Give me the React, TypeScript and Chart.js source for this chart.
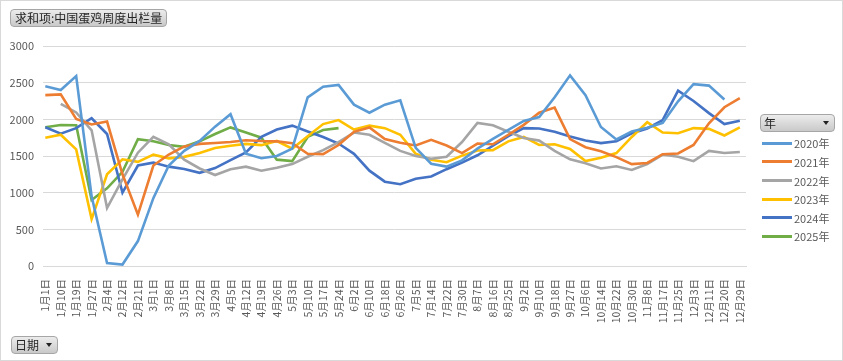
import React, { useEffect, useRef } from 'react';
import { Chart, registerables } from 'chart.js';
Chart.register(...registerables);

const dateLabels = ['1月1日','1月10日','1月19日','1月27日','2月4日','2月12日','2月21日','3月1日','3月8日','3月15日','3月22日','3月29日','4月5日','4月12日','4月19日','4月26日','5月3日','5月10日','5月17日','5月24日','6月2日','6月10日','6月18日','6月26日','7月5日','7月14日','7月22日','7月30日','8月7日','8月16日','8月25日','9月2日','9月10日','9月18日','9月27日','10月6日','10月14日','10月22日','10月30日','11月8日','11月17日','11月25日','12月3日','12月11日','12月20日','12月29日'];

const yearNames = ['2020年', '2021年', '2022年', '2023年', '2024年', '2025年'];
const yearColors = ['#5b9bd5', '#ed7d31', '#a5a5a5', '#ffc000', '#4472c4', '#70ad47'];

const s2020 = [2450, 2400, 2590, 950, 40, 20, 340, 925, 1370, 1570, 1705, 1900, 2070, 1530, 1470, 1500, 1600, 2300, 2445, 2470, 2200, 2090, 2200, 2260, 1610, 1395, 1355, 1440, 1600, 1733, 1855, 1978, 2030, 2300, 2600, 2330, 1895, 1725, 1835, 1885, 1950, 2245, 2480, 2460, 2270, null];
const s2021 = [2330, 2340, 2005, 1930, 1970, 1250, 700, 1370, 1520, 1630, 1665, 1677, 1690, 1715, 1705, 1700, 1675, 1530, 1525, 1650, 1830, 1890, 1730, 1680, 1643, 1720, 1643, 1540, 1670, 1660, 1790, 1925, 2090, 2160, 1730, 1620, 1565, 1485, 1390, 1405, 1525, 1535, 1650, 1945, 2165, 2290];
const s2022 = [null, 2210, 2094, 1850, 790, 1180, 1545, 1760, 1660, 1450, 1330, 1240, 1320, 1355, 1300, 1340, 1390, 1490, 1580, 1690, 1820, 1790, 1680, 1570, 1500, 1462, 1490, 1690, 1950, 1920, 1830, 1745, 1710, 1570, 1455, 1400, 1330, 1360, 1310, 1390, 1520, 1490, 1430, 1570, 1540, 1555];
const s2023 = [1750, 1790, 1590, 640, 1250, 1455, 1420, 1518, 1468, 1488, 1540, 1610, 1640, 1665, 1648, 1705, 1600, 1770, 1935, 1990, 1860, 1914, 1880, 1790, 1530, 1450, 1415, 1505, 1575, 1580, 1700, 1760, 1650, 1660, 1597, 1430, 1475, 1540, 1760, 1960, 1820, 1810, 1880, 1870, 1780, 1890];
const s2024 = [1891, 1805, 1880, 2015, 1800, 1000, 1370, 1410, 1355, 1323, 1270, 1335, 1445, 1550, 1763, 1860, 1914, 1835, 1760, 1670, 1530, 1300, 1150, 1115, 1190, 1220, 1320, 1410, 1510, 1640, 1770, 1880, 1876, 1830, 1765, 1710, 1676, 1700, 1810, 1875, 1990, 2390, 2250, 2085, 1935, 1982];
const s2025 = [1891, 1923, 1920, 900, 1060, 1285, 1730, 1700, 1650, 1625, 1700, 1800, 1890, 1820, 1750, 1450, 1430, 1760, 1855, 1880, null, null, null, null, null, null, null, null, null, null, null, null, null, null, null, null, null, null, null, null, null, null, null, null, null, null];

const yMax = 3000;
const yStep = 500;

const FONT = "'Microsoft YaHei', 'Noto Sans CJK SC', 'Noto Sans', sans-serif";

const btnStyle: React.CSSProperties = {
  position: 'absolute',
  boxSizing: 'border-box',
  background: 'linear-gradient(#ececec, #c9c9c9)',
  border: '1px solid #a6a6a6',
  borderRadius: 4,
  fontFamily: FONT,
  fontSize: 12,
  color: '#262626',
  lineHeight: '15px',
  whiteSpace: 'nowrap',
};

const Tri = () => (
  <span style={{ position: 'absolute', right: 5, top: 6, width: 0, height: 0, borderLeft: '3.5px solid transparent', borderRight: '3.5px solid transparent', borderTop: '4px solid #222' }} />
);

export default function App() {
  const ref = useRef<HTMLCanvasElement>(null);
  useEffect(() => {
    const series = [s2020, s2021, s2022, s2023, s2024, s2025];
    const chart = new Chart(ref.current!, {
      type: 'line',
      data: {
        datasets: series.map((s, k) => ({
          label: yearNames[k],
          data: s.map((v, i) => ({ x: i, y: v })),
          borderColor: yearColors[k],
          backgroundColor: yearColors[k],
          borderWidth: 2.6,
          pointRadius: 0,
          tension: 0,
          spanGaps: false,
        })),
      },
      options: {
        responsive: false,
        animation: false,
        events: [],
        layout: { padding: { left: 0, right: 97, top: 46, bottom: 0 } },
        plugins: { legend: { display: false }, tooltip: { enabled: false } },
        scales: {
          x: {
            type: 'linear',
            min: -0.15,
            max: 45.4,
            grid: { display: false },
            border: { display: true, color: '#d9d9d9' },
            ticks: {
              stepSize: 1,
              autoSkip: false,
              includeBounds: false,
              minRotation: 90,
              maxRotation: 90,
              padding: 5,
              color: '#595959',
              font: { size: 10.5, family: FONT },
              callback: (v: any) => dateLabels[Math.round(v)] ?? '',
            },
            afterFit: (s: any) => { s.height = 95; },
          },
          y: {
            min: 0,
            max: yMax,
            grid: { color: '#d9d9d9', drawTicks: false },
            border: { display: false },
            ticks: { stepSize: yStep, padding: 9, color: '#595959', font: { size: 11, family: FONT }, callback: (v: any) => String(v) },
            afterFit: (s: any) => { s.width = 43; },
          },
        },
      } as any,
    });
    return () => chart.destroy();
  }, []);

  return (
    <div style={{ position: 'absolute', left: 0, top: 0, width: 843, height: 361, background: '#fff', overflow: 'hidden' }}>
      <canvas ref={ref} width={843} height={361} style={{ position: 'absolute', left: 0, top: 0 }} />
      <div style={{ ...btnStyle, left: 10, top: 9, height: 18, padding: '0 4px' }}>求和项:中国蛋鸡周度出栏量</div>
      <div style={{ ...btnStyle, left: 760, top: 114, width: 75, height: 18, paddingLeft: 3 }}>年<Tri /></div>
      <div style={{ ...btnStyle, left: 11, top: 336, width: 47, height: 18, paddingLeft: 3 }}>日期<Tri /></div>
      {yearNames.map((n, k) => (
        <div key={n} style={{ position: 'absolute', left: 762, top: 143.3 + k * 18.6 - 8, height: 16, display: 'flex', alignItems: 'center', fontFamily: FONT, fontSize: 11, color: '#595959' }}>
          <span style={{ display: 'inline-block', width: 30, height: 3, background: yearColors[k], marginRight: 2 }} />
          {n}
        </div>
      ))}
      <div style={{ position: 'absolute', left: 0, top: 0, width: 843, height: 361, boxSizing: 'border-box', border: '1px solid #d9d9d9', pointerEvents: 'none' }} />
    </div>
  );
}
